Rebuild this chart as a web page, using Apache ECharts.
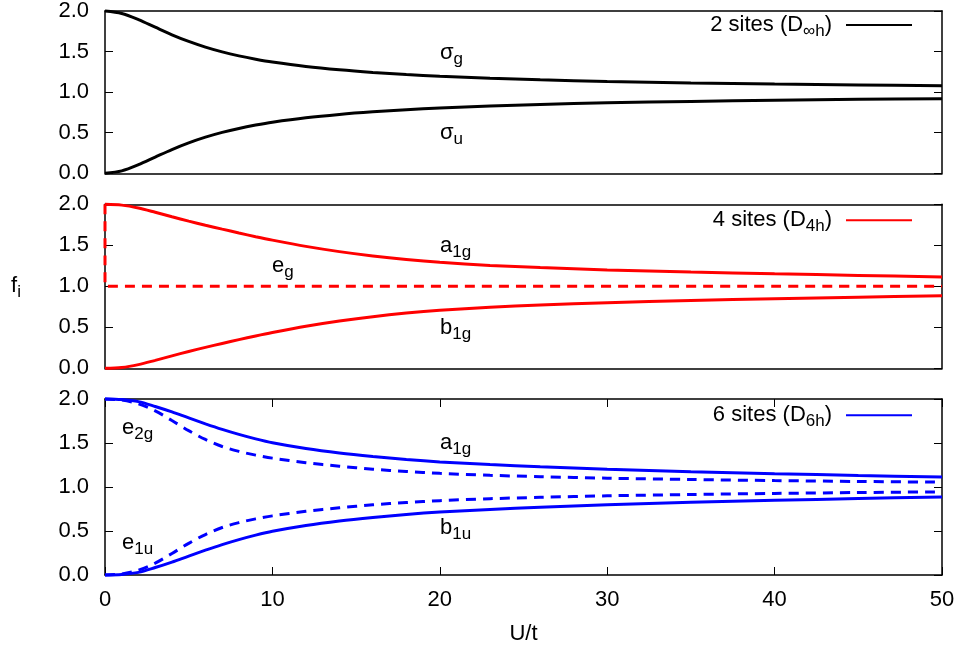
<!DOCTYPE html>
<html>
<head>
<meta charset="utf-8">
<script src="https://cdn.jsdelivr.net/npm/echarts@6/dist/echarts.min.js"></script>
<style>
  html, body { margin: 0; padding: 0; background: #fff; }
  #chart { width: 962px; height: 651px; }
</style>
</head>
<body>
<div id="chart"></div>
<script>
// Interaction strength U/t (shared x grid for all curves)
const U = [0, 1, 2, 3, 4, 5, 6, 7, 8, 9, 10, 12, 14, 16, 18, 20, 23, 26, 30, 35, 40, 45, 50];

// 2 sites (D∞h): natural orbital occupations
const sigmaG = [2.000, 1.970, 1.894, 1.800, 1.707, 1.625, 1.555, 1.496, 1.447, 1.406, 1.371, 1.316, 1.275, 1.243, 1.217, 1.196, 1.171, 1.152, 1.132, 1.114, 1.100, 1.089, 1.080];
const sigmaU = [0.000, 0.030, 0.106, 0.200, 0.293, 0.375, 0.445, 0.504, 0.553, 0.594, 0.629, 0.684, 0.725, 0.757, 0.783, 0.804, 0.829, 0.848, 0.868, 0.886, 0.900, 0.911, 0.920];

// 4 sites (D4h)
const a1g4 = [2.000, 1.990, 1.955, 1.903, 1.848, 1.795, 1.745, 1.697, 1.650, 1.605, 1.563, 1.487, 1.423, 1.370, 1.327, 1.293, 1.255, 1.228, 1.200, 1.173, 1.152, 1.133, 1.114];
const b1g4 = [0.000, 0.010, 0.045, 0.097, 0.152, 0.205, 0.255, 0.303, 0.350, 0.395, 0.437, 0.513, 0.577, 0.630, 0.673, 0.707, 0.745, 0.772, 0.800, 0.827, 0.848, 0.867, 0.886];
const egU = [0, 0, 50];
const eg4 = [2.0, 1.0, 1.0];

// 6 sites (D6h)
const a1g6 = [2.000, 1.993, 1.970, 1.915, 1.853, 1.785, 1.718, 1.655, 1.598, 1.547, 1.503, 1.437, 1.386, 1.346, 1.312, 1.285, 1.255, 1.230, 1.203, 1.174, 1.151, 1.131, 1.114];
const b1u6 = [0.000, 0.007, 0.030, 0.085, 0.147, 0.215, 0.282, 0.345, 0.402, 0.453, 0.497, 0.563, 0.614, 0.654, 0.688, 0.715, 0.745, 0.770, 0.797, 0.826, 0.849, 0.869, 0.886];
const e2g6 = [2.000, 1.988, 1.945, 1.865, 1.755, 1.640, 1.540, 1.460, 1.405, 1.362, 1.328, 1.276, 1.236, 1.203, 1.176, 1.155, 1.133, 1.117, 1.100, 1.085, 1.073, 1.063, 1.055];
const e1u6 = [0.000, 0.012, 0.055, 0.135, 0.245, 0.360, 0.460, 0.540, 0.595, 0.638, 0.672, 0.724, 0.764, 0.797, 0.824, 0.845, 0.867, 0.883, 0.900, 0.915, 0.927, 0.937, 0.945];

const xTicks = { min: 0, max: 50, interval: 10 };
const yTicks = { min: 0, max: 2, interval: 0.5 };

const legendNames = ['2 sites (D∞h)', '4 sites (D4h)', '6 sites (D6h)'];
const legendRich = ['{t|2 sites (D}{s|∞h}{e|)}', '{t|4 sites (D}{s|4h}{e|)}', '{t|6 sites (D}{s|6h}{e|)}'];

const FONT = '"Liberation Sans", Arial, Helvetica, sans-serif';
const richStyles = {
  t: { fontFamily: FONT, fontSize: 22, lineHeight: 30, verticalAlign: 'middle', color: '#000' },
  e: { fontFamily: FONT, fontSize: 22, lineHeight: 30, verticalAlign: 'middle', color: '#000', padding: [0, 9, 0, 0] },
  s: { fontFamily: FONT, fontSize: 17, lineHeight: 16, verticalAlign: 'bottom', color: '#000' }
};

const grids = [
  { left: 105, top: 10, width: 837, height: 163.3 },
  { left: 105, top: 204.3, width: 837, height: 164 },
  { left: 105, top: 399, width: 837, height: 176 }
];

const xAxes = [], yAxes = [];
grids.forEach((g, i) => {
  const last = i === grids.length - 1;
  ['bottom', 'top'].forEach(pos => {
    xAxes.push({
      gridIndex: i, type: 'value', position: pos, ...xTicks,
      axisLine: { show: true, onZero: false, lineStyle: { color: '#000', width: 1.5 } },
      axisTick: { show: last, inside: true, length: 8, lineStyle: { color: '#000', width: 1 } },
      axisLabel: {
        show: last && pos === 'bottom', margin: 14, color: '#000',
        fontFamily: FONT, fontSize: 22
      },
      splitLine: { show: false },
      name: last && pos === 'bottom' ? 'U/t' : '',
      nameLocation: 'middle', nameGap: 48,
      nameTextStyle: { fontFamily: FONT, fontSize: 22, color: '#000' }
    });
  });
  ['left', 'right'].forEach(pos => {
    yAxes.push({
      gridIndex: i, type: 'value', position: pos, ...yTicks,
      axisLine: { show: true, onZero: false, lineStyle: { color: '#000', width: 1.5 } },
      axisTick: { show: true, inside: true, length: 8, lineStyle: { color: '#000', width: 1 } },
      axisLabel: {
        show: pos === 'left', margin: 16, color: '#000',
        fontFamily: FONT, fontSize: 22,
        formatter: v => v.toFixed(1)
      },
      splitLine: { show: false },
      name: (i === 1 && pos === 'left') ? '{t|f}{s|i}' : '',
      nameLocation: 'middle', nameRotate: 0, nameGap: 84,
      nameTextStyle: { rich: richStyles }
    });
  });
});

function pairs(xs, ys) { return xs.map((x, k) => [x, ys[k]]); }

function curve(name, grid, xs, ys, color, dashed) {
  return {
    name: name, type: 'line', xAxisIndex: 2 * grid, yAxisIndex: 2 * grid,
    data: pairs(xs, ys), symbol: 'none', smooth: 0.3, clip: false,
    lineStyle: { color: color, width: 3, type: dashed ? [10, 7] : 'solid' },
    itemStyle: { color: color },
    z: dashed ? 3 : 4
  };
}

const series = [
  curve(legendNames[0], 0, U, sigmaG, '#000000', false),
  curve('σu', 0, U, sigmaU, '#000000', false),
  curve(legendNames[1], 1, U, a1g4, '#ff0000', false),
  curve('b1g', 1, U, b1g4, '#ff0000', false),
  curve('eg', 1, egU, eg4, '#ff0000', true),
  curve(legendNames[2], 2, U, a1g6, '#0000ff', false),
  curve('b1u', 2, U, b1u6, '#0000ff', false),
  curve('e2g', 2, U, e2g6, '#0000ff', true),
  curve('e1u', 2, U, e1u6, '#0000ff', true)
];

const legendTops = [14, 209.3, 404.3];
const legends = legendNames.map((n, i) => ({
  data: [n], right: 49, top: legendTops[i], padding: 0, orient: 'horizontal',
  align: 'right', itemWidth: 66, itemHeight: 14, selectedMode: false,
  itemStyle: { opacity: 0 },
  formatter: () => legendRich[i],
  textStyle: { rich: richStyles }
}));

// Orbital labels: [x, y, base letter, subscript]
const labels = [
  [440, 53, 'σ', 'g'],
  [440, 133, 'σ', 'u'],
  [440, 246, 'a', '1g'],
  [272, 266, 'e', 'g'],
  [440, 328, 'b', '1g'],
  [122, 428, 'e', '2g'],
  [440, 443, 'a', '1g'],
  [122, 543, 'e', '1u'],
  [440, 528, 'b', '1u']
];

const graphic = labels.map(([x, y, b, s]) => ({
  type: 'text', x: x, y: y, z: 10,
  style: {
    text: '{t|' + b + '}{s|' + s + '}',
    rich: richStyles,
    verticalAlign: 'middle', align: 'left'
  }
}));

const chart = echarts.init(document.getElementById('chart'), null, { renderer: 'canvas' });
chart.setOption({
  animation: false,
  backgroundColor: '#ffffff',
  grid: grids,
  xAxis: xAxes,
  yAxis: yAxes,
  legend: legends,
  series: series,
  graphic: graphic
});
</script>
</body>
</html>
